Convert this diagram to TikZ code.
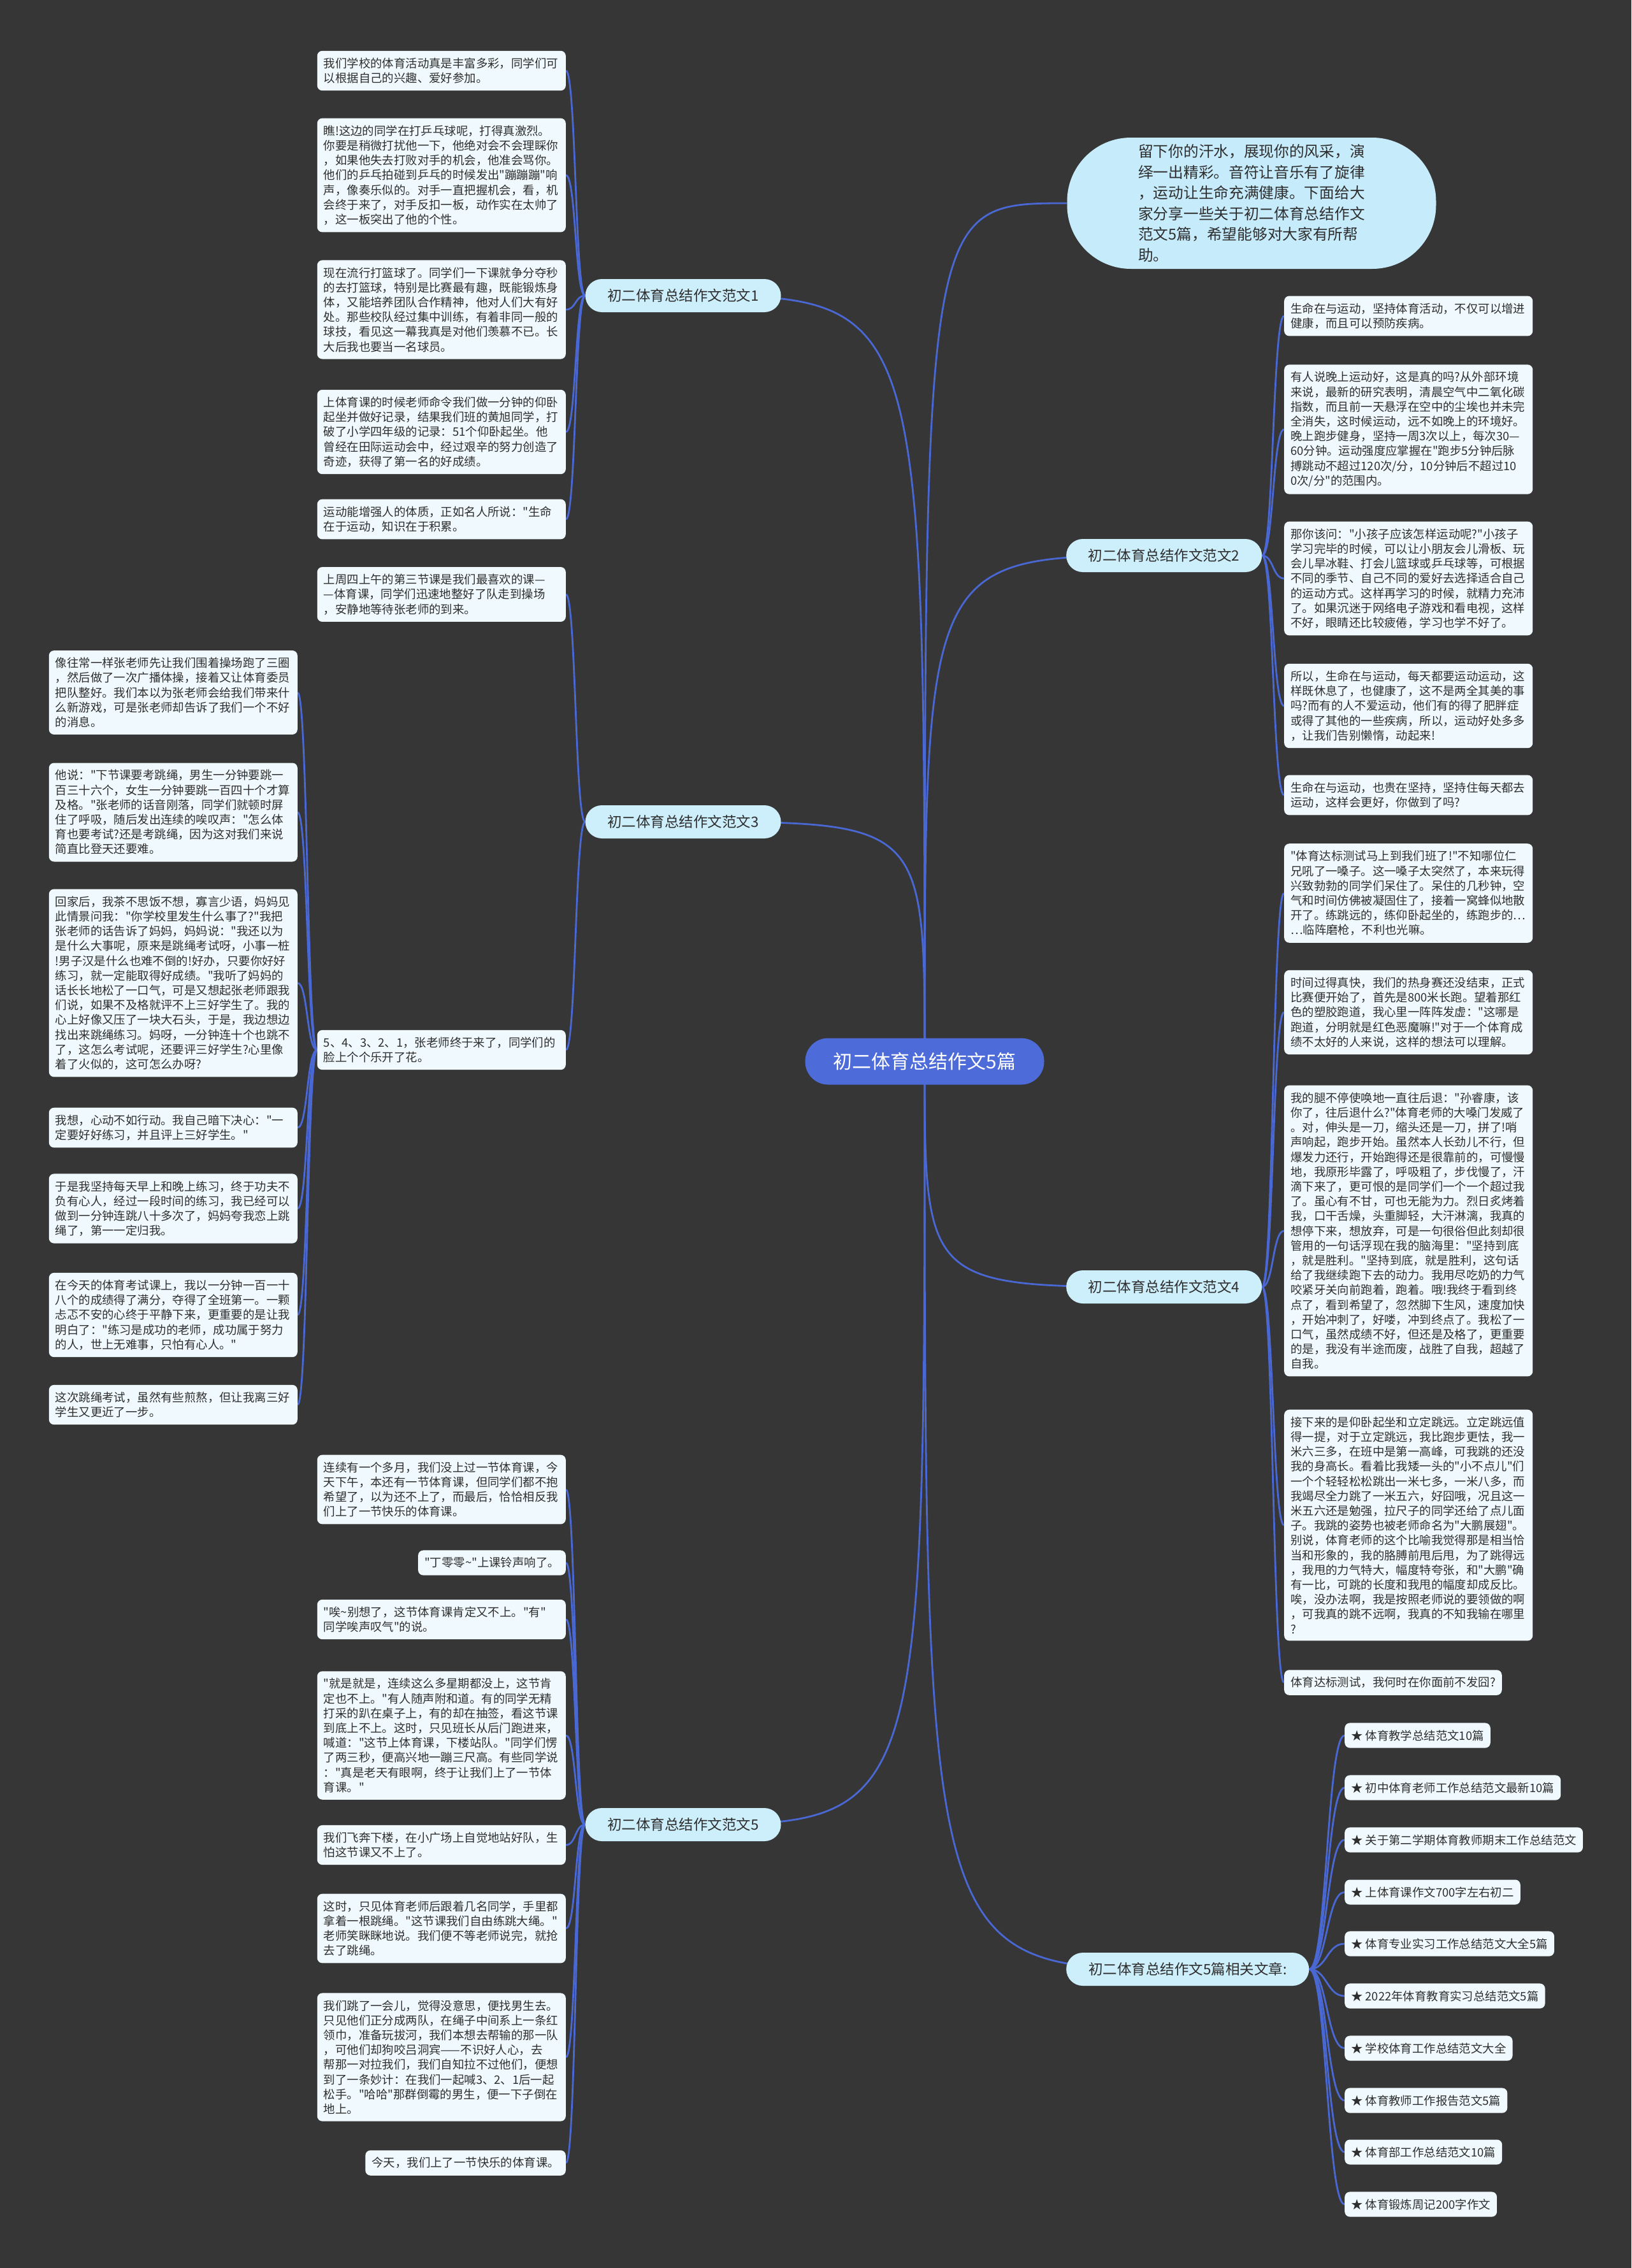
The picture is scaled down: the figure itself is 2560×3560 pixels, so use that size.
\documentclass[tikz,border=0pt]{standalone}
\usepackage{fontspec}
\newfontfamily\cjk{Noto Sans CJK SC}
\pgfdeclarelayer{back}
\pgfdeclarelayer{edges}
\pgfsetlayers{back,edges,main}
\definecolor{bgc}{HTML}{363636}
\definecolor{leafc}{HTML}{F0FAFE}
\definecolor{topicc}{HTML}{CDEEFB}
\definecolor{introc}{HTML}{C6EBFB}
\definecolor{rootc}{HTML}{4D6BD9}
\definecolor{linec}{HTML}{4A68D4}
\definecolor{txtc}{HTML}{2E2E2E}
\tikzset{
  leafbox/.style={fill=leafc, rounded corners=8pt, inner xsep=10pt, inner ysep=11pt, text=txtc,
    font={\cjk\fontsize{18.4pt}{23.2pt}\selectfont}, align=left},
  wide/.style={text width=370pt},
  topicbox/.style={fill=topicc, rounded corners=26pt, minimum height=52pt, minimum width=307pt,
    inner xsep=20pt, text=txtc, font={\cjk\fontsize{22.5pt}{26pt}\selectfont}},
  rootbox/.style={fill=rootc, rounded corners=36pt, minimum height=73pt, minimum width=375pt,
    text=white, font={\cjk\fontsize{30pt}{36pt}\selectfont}},
  introbox/.style={fill=introc, rounded corners=100pt, minimum height=206pt, minimum width=579pt,
    text=txtc, align=left, font={\cjk\fontsize{23.7pt}{32.5pt}\selectfont}},
  conn/.style={draw=linec, line width=2.8pt}
}
\begin{document}
\begin{tikzpicture}[x=1pt,y=-1pt]
\begin{pgfonlayer}{back}
\fill[bgc] (0,0) rectangle (2560,3560);
\end{pgfonlayer}
\useasboundingbox (0,0) rectangle (2560,3560);

% root and topics
\node[rootbox] (root) at (1451,1666) {初二体育总结作文5篇};
\node[topicbox] (t1) at (1072,464) {初二体育总结作文范文1};
\node[topicbox] (t3) at (1072,1290) {初二体育总结作文范文3};
\node[topicbox] (t5) at (1072,2864) {初二体育总结作文范文5};
\node[topicbox, anchor=west] (t2) at (1673,872) {初二体育总结作文范文2};
\node[topicbox, anchor=west] (t4) at (1673,2020) {初二体育总结作文范文4};
\node[topicbox, anchor=west, minimum width=381pt] (t6) at (1673,3091) {初二体育总结作文5篇相关文章:};
\node[introbox] (intro) at (1964,319) {留下你的汗水，展现你的风采，演\\绎一出精彩。音符让音乐有了旋律\\，运动让生命充满健康。下面给大\\家分享一些关于初二体育总结作文\\范文5篇，希望能够对大家有所帮\\助。};

% topic 1
\node[leafbox, wide, anchor=east] (b11) at (888,111) {我们学校的体育活动真是丰富多彩，同学们可\\以根据自己的兴趣、爱好参加。};
\node[leafbox, wide, anchor=east] (b12) at (888,275) {瞧!这边的同学在打乒乓球呢，打得真激烈。\\你要是稍微打扰他一下，他绝对会不会理睬你\\，如果他失去打败对手的机会，他准会骂你。\\他们的乒乓拍碰到乒乓的时候发出"蹦蹦蹦"响\\声，像奏乐似的。对手一直把握机会，看，机\\会终于来了，对手反扣一板，动作实在太帅了\\，这一板突出了他的个性。};
\node[leafbox, wide, anchor=east] (b13) at (888,486) {现在流行打篮球了。同学们一下课就争分夺秒\\的去打篮球，特别是比赛最有趣，既能锻炼身\\体，又能培养团队合作精神，他对人们大有好\\处。那些校队经过集中训练，有着非同一般的\\球技，看见这一幕我真是对他们羡慕不已。长\\大后我也要当一名球员。};
\node[leafbox, wide, anchor=east] (b14) at (888,678) {上体育课的时候老师命令我们做一分钟的仰卧\\起坐并做好记录，结果我们班的黄旭同学，打\\破了小学四年级的记录：51个仰卧起坐。他\\曾经在田际运动会中，经过艰辛的努力创造了\\奇迹，获得了第一名的好成绩。};
\node[leafbox, wide, anchor=east] (b15) at (888,815) {运动能增强人的体质，正如名人所说："生命\\在于运动，知识在于积累。};

% topic 3
\node[leafbox, wide, anchor=east] (b31) at (888,933) {上周四上午的第三节课是我们最喜欢的课—\\—体育课，同学们迅速地整好了队走到操场\\，安静地等待张老师的到来。};
\node[leafbox, wide, anchor=east] (b32) at (888,1648) {5、4、3、2、1，张老师终于来了，同学们的\\脸上个个乐开了花。};

\node[leafbox, wide, anchor=east] (f1) at (467,1087) {像往常一样张老师先让我们围着操场跑了三圈\\，然后做了一次广播体操，接着又让体育委员\\把队整好。我们本以为张老师会给我们带来什\\么新游戏，可是张老师却告诉了我们一个不好\\的消息。};
\node[leafbox, wide, anchor=east] (f2) at (467,1275) {他说："下节课要考跳绳，男生一分钟要跳一\\百三十六个，女生一分钟要跳一百四十个才算\\及格。"张老师的话音刚落，同学们就顿时屏\\住了呼吸，随后发出连续的唉叹声："怎么体\\育也要考试?还是考跳绳，因为这对我们来说\\简直比登天还要难。};
\node[leafbox, wide, anchor=east] (f3) at (467,1543) {回家后，我茶不思饭不想，寡言少语，妈妈见\\此情景问我："你学校里发生什么事了?"我把\\张老师的话告诉了妈妈，妈妈说："我还以为\\是什么大事呢，原来是跳绳考试呀，小事一桩\\!男子汉是什么也难不倒的!好办，只要你好好\\练习，就一定能取得好成绩。"我听了妈妈的\\话长长地松了一口气，可是又想起张老师跟我\\们说，如果不及格就评不上三好学生了。我的\\心上好像又压了一块大石头，于是，我边想边\\找出来跳绳练习。妈呀，一分钟连十个也跳不\\了，这怎么考试呢，还要评三好学生?心里像\\着了火似的，这可怎么办呀?};
\node[leafbox, wide, anchor=east] (f4) at (467,1770) {我想，心动不如行动。我自己暗下决心："一\\定要好好练习，并且评上三好学生。"};
\node[leafbox, wide, anchor=east] (f5) at (467,1897) {于是我坚持每天早上和晚上练习，终于功夫不\\负有心人，经过一段时间的练习，我已经可以\\做到一分钟连跳八十多次了，妈妈夸我恋上跳\\绳了，第一一定归我。};
\node[leafbox, wide, anchor=east] (f6) at (467,2064) {在今天的体育考试课上，我以一分钟一百一十\\八个的成绩得了满分，夺得了全班第一。一颗\\忐忑不安的心终于平静下来，更重要的是让我\\明白了："练习是成功的老师，成功属于努力\\的人，世上无难事，只怕有心人。"};
\node[leafbox, wide, anchor=east] (f7) at (467,2205) {这次跳绳考试，虽然有些煎熬，但让我离三好\\学生又更近了一步。};

% topic 5
\node[leafbox, wide, anchor=east] (e1) at (888,2338) {连续有一个多月，我们没上过一节体育课，今\\天下午，本还有一节体育课，但同学们都不抱\\希望了，以为还不上了，而最后，恰恰相反我\\们上了一节快乐的体育课。};
\node[leafbox, anchor=east] (e2) at (888,2453) {"丁零零\textasciitilde"上课铃声响了。};
\node[leafbox, wide, anchor=east] (e3) at (888,2542) {"唉\textasciitilde 别想了，这节体育课肯定又不上。"有"\\同学唉声叹气"的说。};
\node[leafbox, wide, anchor=east] (e4) at (888,2724) {"就是就是，连续这么多星期都没上，这节肯\\定也不上。"有人随声附和道。有的同学无精\\打采的趴在桌子上，有的却在抽签，看这节课\\到底上不上。这时，只见班长从后门跑进来，\\喊道："这节上体育课，下楼站队。"同学们愣\\了两三秒，便高兴地一蹦三尺高。有些同学说\\："真是老天有眼啊，终于让我们上了一节体\\育课。"};
\node[leafbox, wide, anchor=east] (e5) at (888,2896) {我们飞奔下楼，在小广场上自觉地站好队，生\\怕这节课又不上了。};
\node[leafbox, wide, anchor=east] (e6) at (888,3027) {这时，只见体育老师后跟着几名同学，手里都\\拿着一根跳绳。"这节课我们自由练跳大绳。"\\老师笑眯眯地说。我们便不等老师说完，就抢\\去了跳绳。};
\node[leafbox, wide, anchor=east] (e7) at (888,3229) {我们跳了一会儿，觉得没意思，便找男生去。\\只见他们正分成两队，在绳子中间系上一条红\\领巾，准备玩拔河，我们本想去帮输的那一队\\，可他们却狗咬吕洞宾——不识好人心，去\\帮那一对拉我们，我们自知拉不过他们，便想\\到了一条妙计：在我们一起喊3、2、1后一起\\松手。"哈哈"那群倒霉的男生，便一下子倒在\\地上。};
\node[leafbox, anchor=east] (e8) at (888,3395) {今天，我们上了一节快乐的体育课。};

% topic 2
\node[leafbox, wide, anchor=west] (r21) at (2015,496) {生命在与运动，坚持体育活动，不仅可以增进\\健康，而且可以预防疾病。};
\node[leafbox, wide, anchor=west] (r22) at (2015,674) {有人说晚上运动好，这是真的吗?从外部环境\\来说，最新的研究表明，清晨空气中二氧化碳\\指数，而且前一天悬浮在空中的尘埃也并未完\\全消失，这时候运动，远不如晚上的环境好。\\晚上跑步健身，坚持一周3次以上，每次30—\\60分钟。运动强度应掌握在"跑步5分钟后脉\\搏跳动不超过120次/分，10分钟后不超过10\\0次/分"的范围内。};
\node[leafbox, wide, anchor=west] (r23) at (2015,908) {那你该问："小孩子应该怎样运动呢?"小孩子\\学习完毕的时候，可以让小朋友会儿滑板、玩\\会儿旱冰鞋、打会儿篮球或乒乓球等，可根据\\不同的季节、自己不同的爱好去选择适合自己\\的运动方式。这样再学习的时候，就精力充沛\\了。如果沉迷于网络电子游戏和看电视，这样\\不好，眼睛还比较疲倦，学习也学不好了。};
\node[leafbox, wide, anchor=west] (r24) at (2015,1108) {所以，生命在与运动，每天都要运动运动，这\\样既休息了，也健康了，这不是两全其美的事\\吗?而有的人不爱运动，他们有的得了肥胖症\\或得了其他的一些疾病，所以，运动好处多多\\，让我们告别懒惰，动起来!};
\node[leafbox, wide, anchor=west] (r25) at (2015,1248) {生命在与运动，也贵在坚持，坚持住每天都去\\运动，这样会更好，你做到了吗?};

% topic 4
\node[leafbox, wide, anchor=west] (r41) at (2015,1402) {"体育达标测试马上到我们班了!"不知哪位仁\\兄吼了一嗓子。这一嗓子太突然了，本来玩得\\兴致勃勃的同学们呆住了。呆住的几秒钟，空\\气和时间仿佛被凝固住了，接着一窝蜂似地散\\开了。练跳远的，练仰卧起坐的，练跑步的…\\…临阵磨枪，不利也光嘛。};
\node[leafbox, wide, anchor=west] (r42) at (2015,1589) {时间过得真快，我们的热身赛还没结束，正式\\比赛便开始了，首先是800米长跑。望着那红\\色的塑胶跑道，我心里一阵阵发虚："这哪是\\跑道，分明就是红色恶魔嘛!"对于一个体育成\\绩不太好的人来说，这样的想法可以理解。};
\node[leafbox, wide, anchor=west] (r43) at (2015,1932) {我的腿不停使唤地一直往后退："孙睿康，该\\你了，往后退什么?"体育老师的大嗓门发威了\\。对，伸头是一刀，缩头还是一刀，拼了!哨\\声响起，跑步开始。虽然本人长劲儿不行，但\\爆发力还行，开始跑得还是很靠前的，可慢慢\\地，我原形毕露了，呼吸粗了，步伐慢了，汗\\滴下来了，更可恨的是同学们一个一个超过我\\了。虽心有不甘，可也无能为力。烈日炙烤着\\我，口干舌燥，头重脚轻，大汗淋漓，我真的\\想停下来，想放弃，可是一句很俗但此刻却很\\管用的一句话浮现在我的脑海里："坚持到底\\，就是胜利。"坚持到底，就是胜利，这句话\\给了我继续跑下去的动力。我用尽吃奶的力气\\咬紧牙关向前跑着，跑着。哦!我终于看到终\\点了，看到希望了，忽然脚下生风，速度加快\\，开始冲刺了，好喽，冲到终点了。我松了一\\口气，虽然成绩不好，但还是及格了，更重要\\的是，我没有半途而废，战胜了自我，超越了\\自我。};
\node[leafbox, wide, anchor=west] (r44) at (2015,2394) {接下来的是仰卧起坐和立定跳远。立定跳远值\\得一提，对于立定跳远，我比跑步更怯，我一\\米六三多，在班中是第一高峰，可我跳的还没\\我的身高长。看着比我矮一头的"小不点儿"们\\一个个轻轻松松跳出一米七多，一米八多，而\\我竭尽全力跳了一米五六，好囧哦，况且这一\\米五六还是勉强，拉尺子的同学还给了点儿面\\子。我跳的姿势也被老师命名为"大鹏展翅"。\\别说，体育老师的这个比喻我觉得那是相当恰\\当和形象的，我的胳膊前甩后甩，为了跳得远\\，我甩的力气特大，幅度特夸张，和"大鹏"确\\有一比，可跳的长度和我甩的幅度却成反比。\\唉，没办法啊，我是按照老师说的要领做的啊\\，可我真的跳不远啊，我真的不知我输在哪里\\?};
\node[leafbox, anchor=west] (r45) at (2015,2641) {体育达标测试，我何时在你面前不发囧?};

% related
\node[leafbox, anchor=west] (a1) at (2110,2724) {★ 体育教学总结范文10篇};
\node[leafbox, anchor=west] (a2) at (2110,2806) {★ 初中体育老师工作总结范文最新10篇};
\node[leafbox, anchor=west] (a3) at (2110,2888) {★ 关于第二学期体育教师期末工作总结范文};
\node[leafbox, anchor=west] (a4) at (2110,2970) {★ 上体育课作文700字左右初二};
\node[leafbox, anchor=west] (a5) at (2110,3051) {★ 体育专业实习工作总结范文大全5篇};
\node[leafbox, anchor=west] (a6) at (2110,3133) {★ 2022年体育教育实习总结范文5篇};
\node[leafbox, anchor=west] (a7) at (2110,3215) {★ 学校体育工作总结范文大全};
\node[leafbox, anchor=west] (a8) at (2110,3297) {★ 体育教师工作报告范文5篇};
\node[leafbox, anchor=west] (a9) at (2110,3378) {★ 体育部工作总结范文10篇};
\node[leafbox, anchor=west] (a10) at (2110,3460) {★ 体育锻炼周记200字作文};

\begin{pgfonlayer}{edges}
\foreach \t in {t1,t3,t5,t2,t4,t6} {
  \draw[conn] (root.center) .. controls (root.center |- \t.center) .. (\t.center);
}
\draw[conn] (root.center) .. controls (root.center |- intro.west) .. (intro.west);
\foreach \n in {b11,b12,b13,b14,b15}
  \draw[conn] (t1.west) .. controls +(-16,0) and +(16,0) .. (\n.east);
\foreach \n in {b31,b32}
  \draw[conn] (t3.west) .. controls +(-16,0) and +(16,0) .. (\n.east);
\foreach \n in {f1,f2,f3,f4,f5,f6,f7}
  \draw[conn] (b32.west) .. controls +(-16,0) and +(16,0) .. (\n.east);
\foreach \n in {e1,e2,e3,e4,e5,e6,e7,e8}
  \draw[conn] (t5.west) .. controls +(-16,0) and +(16,0) .. (\n.east);
\foreach \n in {r21,r22,r23,r24,r25}
  \draw[conn] (t2.east) .. controls +(18,0) and +(-18,0) .. (\n.west);
\foreach \n in {r41,r42,r43,r44,r45}
  \draw[conn] (t4.east) .. controls +(18,0) and +(-18,0) .. (\n.west);
\foreach \n in {a1,a2,a3,a4,a5,a6,a7,a8,a9,a10}
  \draw[conn] (t6.east) .. controls +(28,0) and +(-28,0) .. (\n.west);
\end{pgfonlayer}
\end{tikzpicture}
\end{document}
